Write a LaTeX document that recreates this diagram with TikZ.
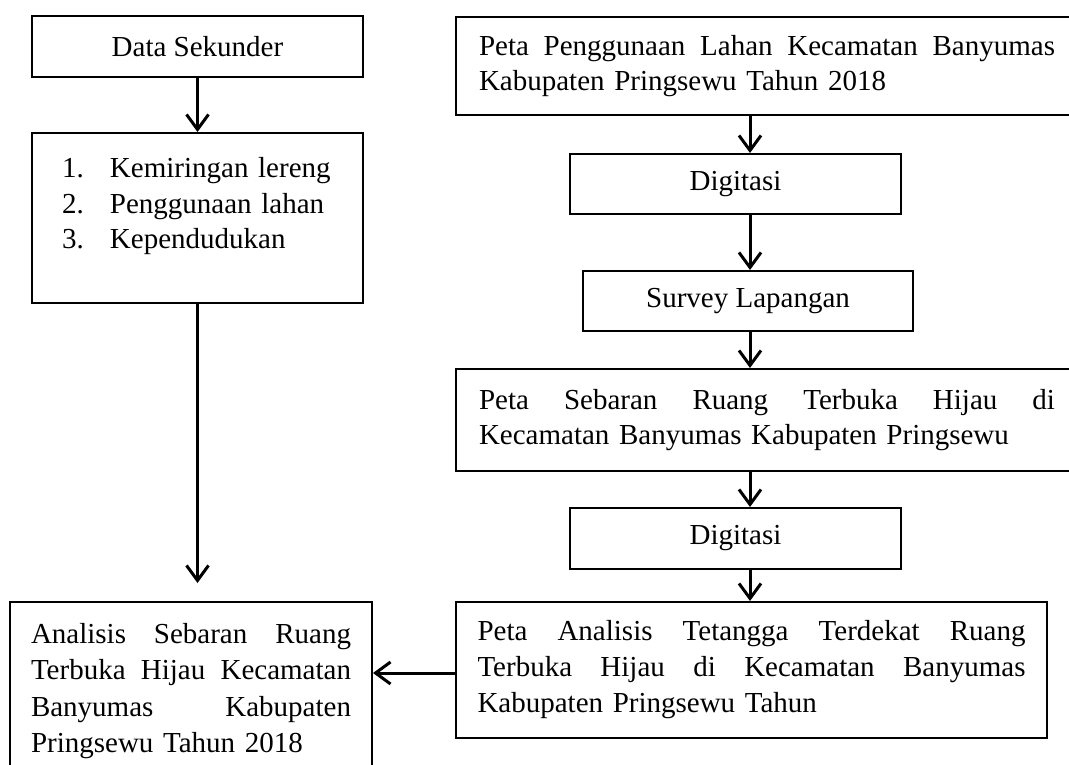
\documentclass[tikz,border=0pt]{standalone}
\usepackage{fontspec}
\setmainfont{Liberation Serif}
\usetikzlibrary{arrows.meta}
\newcommand{\jline}[1]{\makebox[\hsize][s]{\spaceskip=0pt\xspaceskip=0pt #1}}
\newcommand{\numitem}[2]{\makebox[48pt][l]{#1}#2}
\begin{document}
\begin{tikzpicture}[x=1pt,y=-1pt,
  box/.style={draw, line width=2pt, inner sep=0pt, font=\fontsize{29}{35.5}\selectfont},
  arr/.style={line width=3pt, -{Straight Barb[length=15pt,width=22pt]}}]
\fill[white] (0,0) rectangle (1069,765);
\useasboundingbox (0,0) rectangle (1069,765);
\clip (0,0) rectangle (1069,765);
% left column
\node[box, minimum width=331pt, minimum height=61pt] (b1) at (197.5,46.5) {Data Sekunder};
\node[box, minimum width=331pt, minimum height=170pt, text width=271pt, align=left, text height=20pt, text depth=100pt] (b2) at (197.5,218)
  {\numitem{1.}{Kemiringan lereng}\\\numitem{2.}{Penggunaan lahan}\\\numitem{3.}{Kependudukan}};
\node[box, minimum width=362pt, minimum height=178pt, text width=320pt, align=left, font=\fontsize{29}{36.5}\selectfont] (b9) at (191,691)
  {\jline{Analisis Sebaran Ruang}\\\jline{Terbuka Hijau Kecamatan}\\\jline{Banyumas Kabupaten}\\Pringsewu Tahun 2018};
% right column
\node[box, minimum width=622pt, minimum height=98pt, text width=576pt, align=left] (b3) at (767,66)
  {\jline{Peta Penggunaan Lahan Kecamatan Banyumas}\\Kabupaten Pringsewu Tahun 2018};
\node[box, minimum width=331pt, minimum height=60pt] (d1) at (735.5,184) {Digitasi};
\node[box, minimum width=330pt, minimum height=60pt] (s1) at (748,301) {Survey Lapangan};
\node[box, minimum width=622pt, minimum height=102pt, text width=576pt, align=left] (b6) at (767,420)
  {\jline{Peta Sebaran Ruang Terbuka Hijau di}\\Kecamatan Banyumas Kabupaten Pringsewu};
\node[box, minimum width=331pt, minimum height=61pt] (d2) at (735.5,538.5) {Digitasi};
\node[box, minimum width=591pt, minimum height=136pt, text width=548pt, align=left, font=\fontsize{29}{36}\selectfont] (b8) at (751.5,670)
  {\jline{Peta Analisis Tetangga Terdekat Ruang}\\\jline{Terbuka Hijau di Kecamatan Banyumas}\\Kabupaten Pringsewu Tahun};
% connectors
\coordinate (cx) at (750,0);
\coordinate (e1) at (197.5,583);
\coordinate (ay) at (0,673);
\draw[arr] (b1.south) -- (b2.north);
\draw[arr] (b2.south) -- (e1);
\draw[arr] (b3.south -| cx) -- (d1.north -| cx);
\draw[arr] (d1.south -| cx) -- (s1.north -| cx);
\draw[arr] (s1.south -| cx) -- (b6.north -| cx);
\draw[arr] (b6.south -| cx) -- (d2.north -| cx);
\draw[arr] (d2.south -| cx) -- (b8.north -| cx);
\draw[arr] (b8.west |- ay) -- (b9.east |- ay);
\end{tikzpicture}
\end{document}
